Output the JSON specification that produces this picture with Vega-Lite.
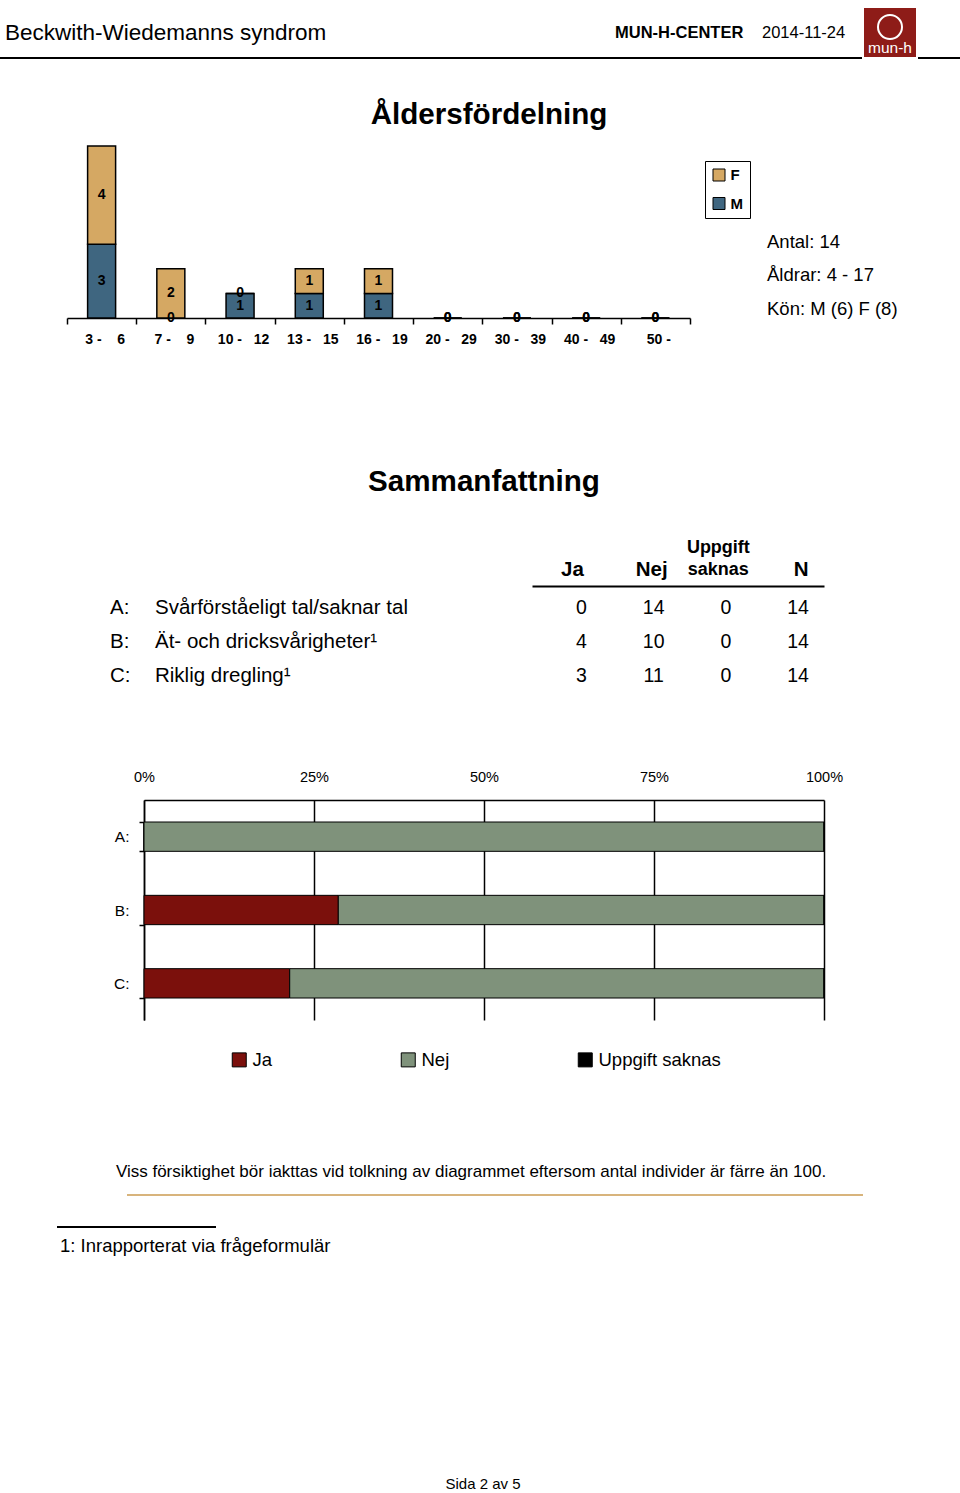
{
  "$schema": "https://vega.github.io/schema/vega-lite/v6.json",
  "padding": 0,
  "spacing": 0,
  "config": {"font": "Liberation Sans", "view": {"stroke": null}, "concat": {"spacing": 0}},
  "resolve": {"scale": {"color": "independent", "x": "independent", "y": "independent"}, "legend": {"color": "independent"}},
  "vconcat": [
    {"width": 1, "height": 8, "data": {"values": []}, "mark": "point"},
    {
      "spacing": 0, "bounds": "flush",
      "hconcat": [
        {"width": 4, "height": 49, "data": {"values": []}, "mark": "point"},
        {"width": 2, "height": 49, "data": {"values": [{"t": "Beckwith-Wiedemanns syndrom"}]}, "mark": {"type": "text", "align": "left", "baseline": "middle", "fontSize": 22.5}, "encoding": {"text": {"field": "t", "type": "nominal"}}},
        {"width": 608, "height": 1, "data": {"values": []}, "mark": "point"},
        {"width": 2, "height": 49, "data": {"values": [{"t": "MUN-H-CENTER"}]}, "mark": {"type": "text", "align": "left", "baseline": "middle", "fontSize": 16.5, "fontWeight": "bold"}, "encoding": {"text": {"field": "t", "type": "nominal"}}},
        {"width": 145, "height": 1, "data": {"values": []}, "mark": "point"},
        {"width": 2, "height": 49, "data": {"values": [{"t": "2014-11-24"}]}, "mark": {"type": "text", "align": "left", "baseline": "middle", "fontSize": 16.5}, "encoding": {"text": {"field": "t", "type": "nominal"}}},
        {"width": 101, "height": 1, "data": {"values": []}, "mark": "point"},
        {
          "width": 52, "height": 49,
          "data": {"values": [{"part": "ring", "t": ""}, {"part": "name", "t": "mun-h"}]},
          "encoding": {"y": {"field": "part", "type": "nominal", "scale": {"type": "point", "domain": ["ring", "name"], "padding": 0.667, "align": 0.679}, "axis": null}},
          "layer": [
            {"data": {"values": [{"t": "bg"}]}, "mark": {"type": "rect", "color": "#8e1c18"}, "encoding": {"y": null}},
            {"transform": [{"filter": "datum.part == 'ring'"}], "mark": {"type": "point", "shape": "circle", "filled": false, "stroke": "white", "strokeWidth": 2, "size": 576, "opacity": 1}},
            {"transform": [{"filter": "datum.part == 'name'"}], "mark": {"type": "text", "color": "white", "fontSize": 15.5, "baseline": "middle"}, "encoding": {"text": {"field": "t", "type": "nominal"}}}
          ]
        }
      ]
    },
    {
      "spacing": 56, "bounds": "flush",
      "hconcat": [
        {"width": 862, "height": 2, "data": {"values": [{"t": "line"}]}, "mark": {"type": "rect", "color": "black"}, "encoding": {}},
        {"width": 42, "height": 2, "data": {"values": [{"t": "line"}]}, "mark": {"type": "rect", "color": "black"}, "encoding": {}}
      ]
    },
    {"width": 1, "height": 41, "data": {"values": []}, "mark": "point"},
    {
      "spacing": 0, "bounds": "flush",
      "hconcat": [
        {"width": 487.5, "height": 1, "data": {"values": []}, "mark": "point"},
        {"width": 2, "height": 30, "data": {"values": [{"t": "Åldersfördelning"}]}, "mark": {"type": "text", "align": "center", "baseline": "middle", "fontSize": 29.6, "fontWeight": "bold"}, "encoding": {"text": {"field": "t", "type": "nominal"}}}
      ]
    },
    {"width": 1, "height": 14.25, "data": {"values": []}, "mark": "point"},
    {
      "spacing": 0, "bounds": "flush",
      "resolve": {"scale": {"color": "independent", "x": "independent", "y": "independent"}, "legend": {"color": "independent"}},
      "hconcat": [
        {"width": 67, "height": 215, "data": {"values": []}, "mark": "point"},
        {
          "width": 623, "height": 172,
          "data": {"values": [
            {"age": "3 -\u00a0\u00a0\u00a0\u00a06", "sex": "M", "count": 3},
            {"age": "3 -\u00a0\u00a0\u00a0\u00a06", "sex": "F", "count": 4},
            {"age": "7 -\u00a0\u00a0\u00a0\u00a09", "sex": "M", "count": 0},
            {"age": "7 -\u00a0\u00a0\u00a0\u00a09", "sex": "F", "count": 2},
            {"age": "10 -\u00a0\u00a0\u00a012", "sex": "M", "count": 1},
            {"age": "10 -\u00a0\u00a0\u00a012", "sex": "F", "count": 0},
            {"age": "13 -\u00a0\u00a0\u00a015", "sex": "M", "count": 1},
            {"age": "13 -\u00a0\u00a0\u00a015", "sex": "F", "count": 1},
            {"age": "16 -\u00a0\u00a0\u00a019", "sex": "M", "count": 1},
            {"age": "16 -\u00a0\u00a0\u00a019", "sex": "F", "count": 1},
            {"age": "20 -\u00a0\u00a0\u00a029", "sex": "M", "count": 0},
            {"age": "20 -\u00a0\u00a0\u00a029", "sex": "F", "count": 0},
            {"age": "30 -\u00a0\u00a0\u00a039", "sex": "M", "count": 0},
            {"age": "30 -\u00a0\u00a0\u00a039", "sex": "F", "count": 0},
            {"age": "40 -\u00a0\u00a0\u00a049", "sex": "M", "count": 0},
            {"age": "40 -\u00a0\u00a0\u00a049", "sex": "F", "count": 0},
            {"age": "50 -\u00a0\u00a0\u00a0\u00a0", "sex": "M", "count": 0},
            {"age": "50 -\u00a0\u00a0\u00a0\u00a0", "sex": "F", "count": 0}
          ]},
          "transform": [
            {"stack": "count", "groupby": ["age"], "sort": [{"field": "sex", "order": "descending"}], "as": ["y0", "y1"]}
          ],
          "encoding": {
            "x": {
              "field": "age", "type": "nominal",
              "sort": ["3 -\u00a0\u00a0\u00a0\u00a06", "7 -\u00a0\u00a0\u00a0\u00a09", "10 -\u00a0\u00a0\u00a012", "13 -\u00a0\u00a0\u00a015", "16 -\u00a0\u00a0\u00a019", "20 -\u00a0\u00a0\u00a029", "30 -\u00a0\u00a0\u00a039", "40 -\u00a0\u00a0\u00a049", "50 -\u00a0\u00a0\u00a0\u00a0"],
              "scale": {"paddingInner": 0, "paddingOuter": 0},
              "axis": {"title": null, "labelAngle": 0, "domainColor": "black", "domainWidth": 1.5, "tickColor": "black", "tickWidth": 1.5, "tickSize": 6, "tickBand": "extent", "labelFontWeight": "bold", "labelFontSize": 14, "labelColor": "black", "labelPadding": 8, "labelOffset": 3, "labelOverlap": false, "labelLimit": 0}
            }
          },
          "layer": [
            {
              "mark": {"type": "bar", "width": 28, "stroke": "black", "strokeWidth": 1.5},
              "encoding": {
                "y": {"field": "y1", "type": "quantitative", "scale": {"domain": [0, 7], "nice": false, "zero": true}, "axis": null},
                "y2": {"field": "y0"},
                "color": {
                  "field": "sex", "type": "nominal",
                  "scale": {"domain": ["F", "M"], "range": ["#d5a863", "#3f6680"]},
                  "legend": {"orient": "none", "legendX": 638, "legendY": 15, "title": null, "direction": "vertical", "symbolType": "square", "symbolSize": 144, "symbolStrokeColor": "black", "symbolStrokeWidth": 1, "labelFontWeight": "bold", "labelFontSize": 15, "labelColor": "black", "labelOffset": 4, "padding": 6.5, "rowPadding": 11.5, "strokeColor": "black", "fillColor": "white"}
                }
              }
            },
            {
              "transform": [
                {"fold": ["y0", "y1"], "as": ["k", "v"]},
                {"aggregate": [{"op": "mean", "field": "v", "as": "ymid"}], "groupby": ["age", "sex", "count"]}
              ],
              "mark": {"type": "text", "fontWeight": "bold", "fontSize": 14, "baseline": "middle", "color": "black"},
              "encoding": {
                "y": {"field": "ymid", "type": "quantitative", "axis": null},
                "text": {"field": "count", "type": "quantitative"}
              }
            }
          ]
        },
        {"width": 72, "height": 1, "data": {"values": []}, "mark": "point"},
        {
          "spacing": 0, "bounds": "flush",
          "vconcat": [
            {"width": 10, "height": 84.75, "data": {"values": []}, "mark": "point"},
            {
              "width": 10, "height": 100.5,
              "data": {"values": [
                {"line": 1, "text": "Antal: 14"},
                {"line": 2, "text": "Åldrar: 4 - 17"},
                {"line": 3, "text": "Kön: M (6) F (8)"}
              ]},
              "mark": {"type": "text", "align": "left", "baseline": "alphabetic", "fontSize": 18.5},
              "encoding": {
                "y": {"field": "line", "type": "ordinal", "scale": {"type": "point", "padding": 0.5}, "axis": null},
                "text": {"field": "text", "type": "nominal"}
              }
            }
          ]
        }
      ]
    },
    {"width": 1, "height": 106, "data": {"values": []}, "mark": "point"},
    {
      "spacing": 0, "bounds": "flush",
      "hconcat": [
        {"width": 483, "height": 1, "data": {"values": []}, "mark": "point"},
        {"width": 2, "height": 30, "data": {"values": [{"t": "Sammanfattning"}]}, "mark": {"type": "text", "align": "center", "baseline": "middle", "fontSize": 29.6, "fontWeight": "bold"}, "encoding": {"text": {"field": "t", "type": "nominal"}}}
      ]
    },
    {"width": 1, "height": 40.5, "data": {"values": []}, "mark": "point"},
    {
      "spacing": 0, "bounds": "flush",
      "resolve": {"scale": {"x": "independent", "y": "independent"}},
      "hconcat": [
        {"width": 109, "height": 1, "data": {"values": []}, "mark": "point"},
        {
          "width": 2, "height": 112,
          "data": {"values": [{"row": "A", "t": "A:"}, {"row": "B", "t": "B:"}, {"row": "C", "t": "C:"}]},
          "mark": {"type": "text", "align": "left", "baseline": "middle", "fontSize": 20.5},
          "encoding": {
            "y": {"field": "row", "type": "nominal", "scale": {"type": "point", "padding": 0.647}, "axis": null},
            "text": {"field": "t", "type": "nominal"}
          }
        },
        {"width": 43, "height": 1, "data": {"values": []}, "mark": "point"},
        {
          "width": 2, "height": 112,
          "data": {"values": [{"row": "A", "t": "Svårförståeligt tal/saknar tal"}, {"row": "B", "t": "Ät- och dricksvårigheter¹"}, {"row": "C", "t": "Riklig dregling¹"}]},
          "mark": {"type": "text", "align": "left", "baseline": "middle", "fontSize": 20.5},
          "encoding": {
            "y": {"field": "row", "type": "nominal", "scale": {"type": "point", "padding": 0.647}, "axis": null},
            "text": {"field": "t", "type": "nominal"}
          }
        },
        {"width": 376, "height": 1, "data": {"values": []}, "mark": "point"},
        {
          "width": 292, "height": 112,
          "data": {"values": [
            {"row": "A", "col": "Ja", "v": 0}, {"row": "A", "col": "Nej", "v": 14}, {"row": "A", "col": "Uppgift saknas", "v": 0}, {"row": "A", "col": "N", "v": 14},
            {"row": "B", "col": "Ja", "v": 4}, {"row": "B", "col": "Nej", "v": 10}, {"row": "B", "col": "Uppgift saknas", "v": 0}, {"row": "B", "col": "N", "v": 14},
            {"row": "C", "col": "Ja", "v": 3}, {"row": "C", "col": "Nej", "v": 11}, {"row": "C", "col": "Uppgift saknas", "v": 0}, {"row": "C", "col": "N", "v": 14}
          ]},
          "mark": {"type": "text", "fontSize": 19.5, "baseline": "middle", "align": "center"},
          "encoding": {
            "x": {
              "field": "col", "type": "nominal",
              "scale": {"type": "point", "domain": ["Ja", "Nej", "Uppgift saknas", "N"], "padding": 0.523, "align": 0.656},
              "axis": {
                "orient": "top", "title": null, "labelAngle": 0, "domainColor": "black", "domainWidth": 2, "ticks": false, "tickSize": 0,
                "labelFontWeight": "bold", "labelColor": "black", "labelLineHeight": 22, "labelOverlap": false, "labelLimit": 0,
                "labelExpr": "datum.label == 'Uppgift saknas' ? ['Uppgift', 'saknas'] : datum.label",
                "labelPadding": {"condition": {"test": "datum.value == 'Uppgift saknas'", "value": 29.5}, "value": 6.5},
                "labelFontSize": {"condition": {"test": "datum.value == 'Uppgift saknas'", "value": 18}, "value": 20.5},
                "labelOffset": {"condition": [{"test": "datum.value == 'Ja'", "value": -9.5}, {"test": "datum.value == 'Nej'", "value": -2.5}, {"test": "datum.value == 'Uppgift saknas'", "value": -8}], "value": 2.5}
              }
            },
            "y": {"field": "row", "type": "nominal", "scale": {"type": "point", "padding": 0.647}, "axis": null},
            "text": {"field": "v", "type": "quantitative"}
          }
        }
      ]
    },
    {"width": 1, "height": 71, "data": {"values": []}, "mark": "point"},
    {
      "spacing": 0, "bounds": "flush",
      "resolve": {"scale": {"color": "independent", "x": "independent", "y": "independent"}, "legend": {"color": "independent"}},
      "hconcat": [
        {"width": 144, "height": 280, "data": {"values": []}, "mark": "point"},
        {
          "width": 680, "height": 220,
          "data": {"values": [
            {"item": "A:", "answer": "Ja", "count": 0}, {"item": "A:", "answer": "Nej", "count": 14}, {"item": "A:", "answer": "Uppgift saknas", "count": 0},
            {"item": "B:", "answer": "Ja", "count": 4}, {"item": "B:", "answer": "Nej", "count": 10}, {"item": "B:", "answer": "Uppgift saknas", "count": 0},
            {"item": "C:", "answer": "Ja", "count": 3}, {"item": "C:", "answer": "Nej", "count": 11}, {"item": "C:", "answer": "Uppgift saknas", "count": 0}
          ]},
          "mark": {"type": "bar", "stroke": "black", "strokeWidth": 1},
          "encoding": {
            "x": {
              "field": "count", "type": "quantitative", "stack": "normalize",
              "scale": {"domain": [0, 1], "nice": false},
              "axis": {"orient": "top", "title": null, "values": [0, 0.25, 0.5, 0.75, 1], "format": ".0%", "grid": true, "gridColor": "black", "gridWidth": 1.5, "gridOpacity": 1, "domainColor": "black", "domainWidth": 1.5, "ticks": false, "tickSize": 0, "labelPadding": 15.5, "labelFontSize": 14.5, "labelColor": "black", "labelFlush": false, "labelOverlap": false}
            },
            "y": {
              "field": "item", "type": "nominal",
              "scale": {"paddingInner": 0.6, "paddingOuter": 0.3},
              "axis": {"title": null, "tickBand": "extent", "domainColor": "black", "domainWidth": 1.5, "tickColor": "black", "tickWidth": 1.5, "tickSize": 5, "labelPadding": 10, "labelFontSize": 15.5, "labelColor": "black"}
            },
            "color": {
              "field": "answer", "type": "nominal",
              "scale": {"domain": ["Ja", "Nej", "Uppgift saknas"], "range": ["#7b100c", "#7f927b", "#000000"]},
              "legend": {"orient": "none", "legendX": 86, "legendY": 250.5, "direction": "horizontal", "title": null, "symbolType": "square", "symbolSize": 196, "symbolStrokeColor": "black", "symbolStrokeWidth": 1, "labelFontSize": 18.5, "labelColor": "black", "labelOffset": 4, "columnPadding": 126, "gridAlign": "each", "padding": 0}
            }
          }
        }
      ]
    },
    {"width": 1, "height": 83, "data": {"values": []}, "mark": "point"},
    {
      "spacing": 0, "bounds": "flush",
      "hconcat": [
        {"width": 469.5, "height": 1, "data": {"values": []}, "mark": "point"},
        {"width": 2, "height": 18, "data": {"values": [{"t": "Viss försiktighet bör iakttas vid tolkning av diagrammet eftersom antal individer är färre än 100."}]}, "mark": {"type": "text", "align": "center", "baseline": "middle", "fontSize": 17}, "encoding": {"text": {"field": "t", "type": "nominal"}}}
      ]
    },
    {"width": 1, "height": 13, "data": {"values": []}, "mark": "point"},
    {
      "spacing": 0, "bounds": "flush",
      "hconcat": [
        {"width": 127, "height": 1, "data": {"values": []}, "mark": "point"},
        {"width": 736, "height": 2, "data": {"values": [{"t": "line"}]}, "mark": {"type": "rect", "color": "#d8b47c"}, "encoding": {}}
      ]
    },
    {"width": 1, "height": 30, "data": {"values": []}, "mark": "point"},
    {
      "spacing": 0, "bounds": "flush",
      "hconcat": [
        {"width": 57, "height": 1, "data": {"values": []}, "mark": "point"},
        {"width": 159, "height": 2, "data": {"values": [{"t": "line"}]}, "mark": {"type": "rect", "color": "black"}, "encoding": {}}
      ]
    },
    {"width": 1, "height": 8, "data": {"values": []}, "mark": "point"},
    {
      "spacing": 0, "bounds": "flush",
      "hconcat": [
        {"width": 59, "height": 1, "data": {"values": []}, "mark": "point"},
        {"width": 2, "height": 20, "data": {"values": [{"t": "1: Inrapporterat via frågeformulär"}]}, "mark": {"type": "text", "align": "left", "baseline": "middle", "fontSize": 18.5}, "encoding": {"text": {"field": "t", "type": "nominal"}}}
      ]
    },
    {"width": 1, "height": 220, "data": {"values": []}, "mark": "point"},
    {
      "spacing": 0, "bounds": "flush",
      "hconcat": [
        {"width": 482, "height": 1, "data": {"values": []}, "mark": "point"},
        {"width": 2, "height": 16, "data": {"values": [{"t": "Sida 2 av 5"}]}, "mark": {"type": "text", "align": "center", "baseline": "middle", "fontSize": 15}, "encoding": {"text": {"field": "t", "type": "nominal"}}}
      ]
    }
  ]
}
